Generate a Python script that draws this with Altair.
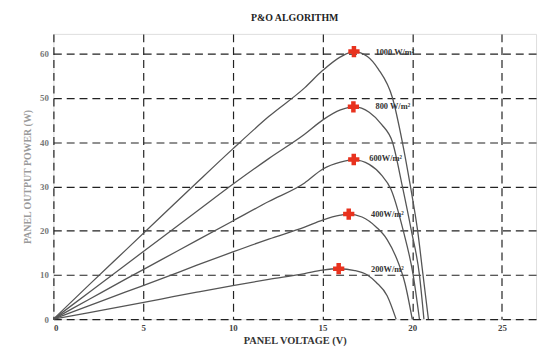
import altair as alt
import pandas as pd

title_text = "P&O ALGORITHM"
x_title = "PANEL VOLTAGE (V)"
y_title = "PANEL OUTPUT POWER (W)"
x_ticks = [0, 5, 10, 15, 20, 25]
y_ticks = [0, 10, 20, 30, 40, 50, 60]

series_names = ["1000", "800", "600", "400", "200"]
label_texts = ["1000 W/m²", "800 W/m²", "600W/m²", "400W/m²", "200W/m²"]

v_1000 = [0, 2, 4, 6, 8, 10, 12, 14, 15, 16, 16.75, 17.5, 18.1, 18.9, 19.45, 19.9, 20.3, 20.6, 20.9]
p_1000 = [0, 7.8, 15.5, 23.2, 30.9, 38.5, 45.8, 52.3, 56.2, 59.3, 60.5, 59.4, 56.6, 50.0, 40.0, 30.0, 20.0, 10.0, 0]

v_800 = [0, 2, 4, 6, 8, 10, 12, 14, 15, 16, 16.75, 17.6, 18.3, 18.9, 19.45, 19.95, 20.4, 20.65]
p_800 = [0, 6.1, 12.2, 18.3, 24.4, 30.5, 36.3, 41.8, 45.0, 47.3, 48.0, 46.8, 44.0, 40.0, 30.0, 20.0, 10.0, 0]

v_600 = [0, 2, 4, 6, 8, 10, 12, 14, 15, 16, 16.75, 17.6, 18.3, 18.8, 19.5, 20.05, 20.4]
p_600 = [0, 4.5, 9.0, 13.4, 17.8, 22.2, 26.6, 30.8, 33.9, 35.5, 36.0, 35.0, 32.5, 29.5, 20.0, 10.0, 0]

v_400 = [0, 2, 4, 6, 8, 10, 12, 14, 15, 16, 16.45, 17.2, 18.0, 18.6, 19.1, 19.6, 20.0]
p_400 = [0, 3.05, 6.1, 9.1, 12.2, 15.2, 18.1, 20.8, 22.4, 23.5, 23.75, 23.1, 20.8, 18.0, 14.0, 8.0, 0]

v_200 = [0, 2, 4, 6, 8, 10, 12, 14, 15, 15.9, 16.8, 17.5, 18.0, 18.6, 19.1]
p_200 = [0, 1.5, 3.0, 4.55, 6.1, 7.6, 9.0, 10.3, 11.1, 11.4, 11.0, 10.0, 8.3, 5.3, 0]

mpp_v = [16.75, 16.72, 16.74, 16.46, 15.9]
mpp_p = [60.5, 48.0, 36.1, 23.75, 11.4]
label_v = [17.95, 17.95, 17.6, 17.7, 17.7]
label_p = [60.5, 48.2, 36.4, 23.7, 11.4]

curves_v = [v_1000, v_800, v_600, v_400, v_200]
curves_p = [p_1000, p_800, p_600, p_400, p_200]

rows = []
for name, vs, ps in zip(series_names, curves_v, curves_p):
    for v, p in zip(vs, ps):
        rows.append({"series": name, "V": v, "P": p})
curve_df = pd.DataFrame(rows)

mpp_df = pd.DataFrame({"series": series_names, "V": mpp_v, "P": mpp_p})
label_df = pd.DataFrame({"series": series_names, "V": label_v, "P": label_p, "text": label_texts})

FONT = "Liberation Serif"

x_scale = alt.Scale(domain=[0, 26.9], nice=False, zero=False)
y_scale = alt.Scale(domain=[0, 64.5], nice=False, zero=False)

x_axis = alt.Axis(values=x_ticks, title=x_title, titleFont=FONT, titleFontSize=10.5,
                  titleFontWeight="bold", titleColor="#333", labelFont=FONT, labelFontSize=9,
                  labelFontWeight="bold", labelColor="#444", ticks=False, labelPadding=5,
                  titlePadding=3, grid=True, gridDash=[8, 5], gridColor="#222",
                  gridWidth=1.2, domain=False)
y_axis = alt.Axis(values=y_ticks, title=y_title, titleFont=FONT, titleFontSize=10,
                  titleFontWeight="bold", titleColor="#9a9a9a", labelFont=FONT, labelFontSize=9,
                  labelFontWeight="bold", labelColor="#777", ticks=False, labelPadding=5,
                  titlePadding=7, grid=True, gridDash=[8, 5], gridColor="#222",
                  gridWidth=1.2, domain=False)

lines = alt.Chart(curve_df).mark_line(interpolate="monotone", color="#555", strokeWidth=1.3).encode(
    x=alt.X("V:Q", scale=x_scale, axis=x_axis),
    y=alt.Y("P:Q", scale=y_scale, axis=y_axis),
    detail="series:N",
)

markers = alt.Chart(mpp_df).mark_point(shape="cross", filled=True, color="#e8321e",
                                       size=130, opacity=1).encode(
    x=alt.X("V:Q", scale=x_scale),
    y=alt.Y("P:Q", scale=y_scale),
)

labels = alt.Chart(label_df).mark_text(align="left", baseline="middle", font=FONT,
                                       fontSize=8.5, fontWeight="bold", color="#333").encode(
    x=alt.X("V:Q", scale=x_scale),
    y=alt.Y("P:Q", scale=y_scale),
    text="text:N",
)

chart = alt.layer(lines, markers, labels).properties(
    width=489,
    height=289,
    title=alt.TitleParams(title_text, font=FONT, fontSize=10, fontWeight="bold",
                          color="#222", offset=11, anchor="middle"),
    autosize=alt.AutoSizeParams(type="none"),
    padding={"left": 46, "top": 24, "right": 4, "bottom": 28},
).configure_view(stroke="#111", strokeWidth=1.2).configure(background="white")

chart.save("out.html", embed_options={"renderer": "svg", "actions": False})
